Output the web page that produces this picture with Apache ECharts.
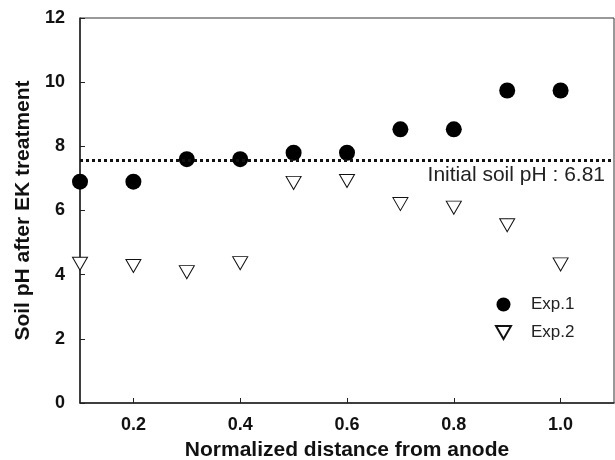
<!DOCTYPE html>
<html>
<head>
<meta charset="utf-8">
<script src="https://cdn.jsdelivr.net/npm/echarts@6/dist/echarts.min.js"></script>
<style>
  html, body { margin: 0; padding: 0; background: #fff; }
  #chart_Soil_PH { width: 615px; height: 460px; }
</style>
</head>
<body>
<div id="chart_Soil_PH"></div>
<script>
// normalized distance from anode
var distances = [0.1, 0.2, 0.3, 0.4, 0.5, 0.6, 0.7, 0.8, 0.9, 1.0];
// soil pH after EK treatment
var exp1Ph = [6.9, 6.9, 7.6, 7.6, 7.8, 7.8, 8.53, 8.53, 9.74, 9.74];
var exp2Ph = [4.34, 4.27, 4.08, 4.36, 6.86, 6.92, 6.2, 6.09, 5.54, 4.32];
var initialLineY = 7.57;
var xTicks = [0.2, 0.4, 0.6, 0.8, 1.0];
var seriesNames = ['Exp.1', 'Exp.2'];

var triPath = 'path://M0,0 L16,0 L8,14 Z';

var chart_Soil_PH = echarts.init(document.getElementById('chart_Soil_PH'));

var pairs = function (xs, ys) {
    var out = [];
    for (var i = 0; i < xs.length; i++) {
        out.push([xs[i], ys[i]]);
    }
    return out;
};

var fontFam = '"Liberation Sans", Arial, sans-serif';

var option = {
    animation: false,
    grid: {
        left: 80,
        right: 1,
        top: 18,
        bottom: 57,
        outerBoundsMode: 'none',
        show: true,
        borderColor: '#333',
        borderWidth: 1
    },
    xAxis: {
        type: 'value',
        min: 0.1,
        max: 1.1,
        name: 'Normalized distance from anode',
        nameLocation: 'middle',
        nameGap: 37,
        nameTextStyle: { fontFamily: fontFam, fontWeight: 'bold', fontSize: 21, color: '#111' },
        splitLine: { show: false },
        axisLine: { lineStyle: { color: '#222', width: 1.5 } },
        axisTick: { inside: true, length: 5, customValues: xTicks, lineStyle: { color: '#222' } },
        axisLabel: {
            customValues: xTicks,
            margin: 13,
            fontFamily: fontFam, fontWeight: 'bold', fontSize: 18, color: '#111',
            formatter: function (v) { return v.toFixed(1); }
        }
    },
    yAxis: {
        type: 'value',
        min: 0,
        max: 12,
        interval: 2,
        name: 'Soil pH after EK treatment',
        nameLocation: 'middle',
        nameGap: 43,
        nameTextStyle: { fontFamily: fontFam, fontWeight: 'bold', fontSize: 21, color: '#111' },
        splitLine: { show: false },
        axisLine: { show: true, lineStyle: { color: '#222', width: 1.5 } },
        axisTick: { show: true, inside: true, length: 5, lineStyle: { color: '#222' } },
        axisLabel: { margin: 15, fontFamily: fontFam, fontWeight: 'bold', fontSize: 18, color: '#111' }
    },
    legend: {
        orient: 'vertical',
        left: 490,
        top: 291,
        itemWidth: 15,
        itemHeight: 14,
        itemGap: 11,
        data: [
            { name: seriesNames[0], icon: 'circle' },
            { name: seriesNames[1], icon: triPath }
        ],
        textStyle: { fontFamily: fontFam, fontSize: 17, color: '#222', padding: [0, 0, 0, 15] }
    },
    series: [
        {
            name: seriesNames[0],
            type: 'scatter',
            symbol: 'circle',
            symbolSize: 16,
            clip: false,
            itemStyle: { color: '#000', opacity: 1 },
            data: pairs(distances, exp1Ph),
            markLine: {
                silent: true,
                symbol: 'none',
                label: { show: false },
                lineStyle: { color: '#111', type: [3, 3], width: 3 },
                data: [{ yAxis: initialLineY }]
            },
            z: 3
        },
        {
            name: seriesNames[1],
            type: 'scatter',
            symbol: triPath,
            symbolSize: [15, 13],
            clip: false,
            itemStyle: { color: '#fff', borderColor: '#111', borderWidth: 1, opacity: 1 },
            data: pairs(distances, exp2Ph),
            z: 2
        }
    ],
    graphic: [{
        type: 'text',
        right: 10,
        top: 165,
        style: {
            text: 'Initial soil pH : 6.81',
            fontFamily: fontFam,
            fontSize: 21,
            fill: '#222'
        }
    }]
};

chart_Soil_PH.setOption(option);
</script>
</body>
</html>
